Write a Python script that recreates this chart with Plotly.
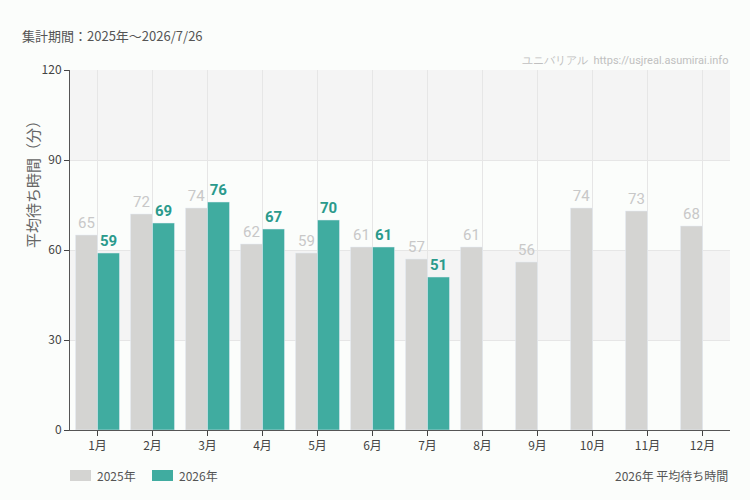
import plotly.graph_objects as go

months = ["1月", "2月", "3月", "4月", "5月", "6月", "7月", "8月", "9月", "10月", "11月", "12月"]
y2025 = [65, 72, 74, 62, 59, 61, 57, 61, 56, 74, 73, 68]
y2026 = [59, 69, 76, 67, 70, 61, 51, None, None, None, None, None]
series_names = ["2025年", "2026年"]
y_ticks = [0, 30, 60, 90, 120]
bands = [(30, 60), (90, 120)]

BG = "#fbfdfb"
C25 = "#d4d4d2"
C26 = "#40aca0"
NARROW = "Roboto, sans-serif"
JP = "Noto Sans CJK JP, sans-serif"

fig = go.Figure()
fig.add_trace(go.Bar(
    x=months, y=y2025, name=series_names[0], marker_color=C25,
    text=[str(v) for v in y2025], textposition="outside",
    textfont=dict(family=NARROW, size=15, color="#c8c8c8"),
    cliponaxis=False,
))
fig.add_trace(go.Bar(
    x=months, y=y2026, name=series_names[1], marker_color=C26,
    text=[str(v) if v is not None else "" for v in y2026], textposition="outside",
    textfont=dict(family=NARROW, size=15, color="#2a9a8c", weight="bold"),
    cliponaxis=False,
))

shapes = []
for lo, hi in bands:
    shapes.append(dict(type="rect", xref="paper", yref="y", x0=0, x1=1, y0=lo, y1=hi,
                       fillcolor="#f4f4f4", line=dict(width=0), layer="below"))

# manual legend (wide swatches like the reference)
legend_items = [(series_names[0], C25, 0), (series_names[1], C26, 82)]
annotations = []
for name, col, off in legend_items:
    shapes.append(dict(type="rect", xref="paper", yref="paper",
                       x0=off / 660, x1=(off + 21) / 660,
                       y0=-51 / 360, y1=-40 / 360,
                       fillcolor=col, line=dict(width=0)))
    annotations.append(dict(text=name, xref="paper", yref="paper",
                            x=(off + 25) / 660, y=-45.5 / 360, xanchor="left", yanchor="middle",
                            showarrow=False, font=dict(size=12, color="#555")))

annotations += [
    dict(text="集計期間：2025年～2026/7/26", xref="paper", yref="paper",
         x=-50 / 660, y=1.0, xanchor="left", yanchor="middle", yshift=35,
         showarrow=False, font=dict(size=13, color="#555")),
    dict(text="ユニバリアル  https://usjreal.asumirai.info", xref="paper", yref="paper",
         x=1.0, y=1.0, xanchor="right", yanchor="middle", yshift=10,
         showarrow=False, font=dict(family=NARROW, size=11, color="#c0c0c0")),
    dict(text="2026年 平均待ち時間", xref="paper", yref="paper",
         x=1.0, y=-45.5 / 360, xanchor="right", yanchor="middle",
         showarrow=False, font=dict(size=12, color="#555")),
    dict(text="平均待ち時間（分）", xref="paper", yref="paper", textangle=-90,
         x=-38 / 660, y=(430 - 181) / 360, xanchor="center", yanchor="middle",
         showarrow=False, font=dict(size=15, color="#666")),
]

fig.update_layout(
    width=750, height=500,
    paper_bgcolor=BG, plot_bgcolor=BG,
    margin=dict(l=70, r=20, t=70, b=70, autoexpand=False),
    barmode="group", bargap=0.2, bargroupgap=0,
    font=dict(family=JP, size=12, color="#444"),
    shapes=shapes,
    showlegend=False,
    xaxis=dict(showgrid=True, gridcolor="#e6e6e6", ticks="outside", ticklen=5,
               tickcolor="#444", showline=True, linecolor="#555", linewidth=1,
               tickfont=dict(size=12, color="#444"), automargin=False),
    yaxis=dict(range=[0, 120], tickvals=y_ticks, showgrid=True, gridcolor="#e6e6e6",
               ticks="outside", ticklen=5, tickcolor="#444", showline=True,
               linecolor="#555", linewidth=1, zeroline=False, automargin=False,
               tickfont=dict(size=12, color="#444")),
    annotations=annotations,
)

fig.write_html("out.html")
